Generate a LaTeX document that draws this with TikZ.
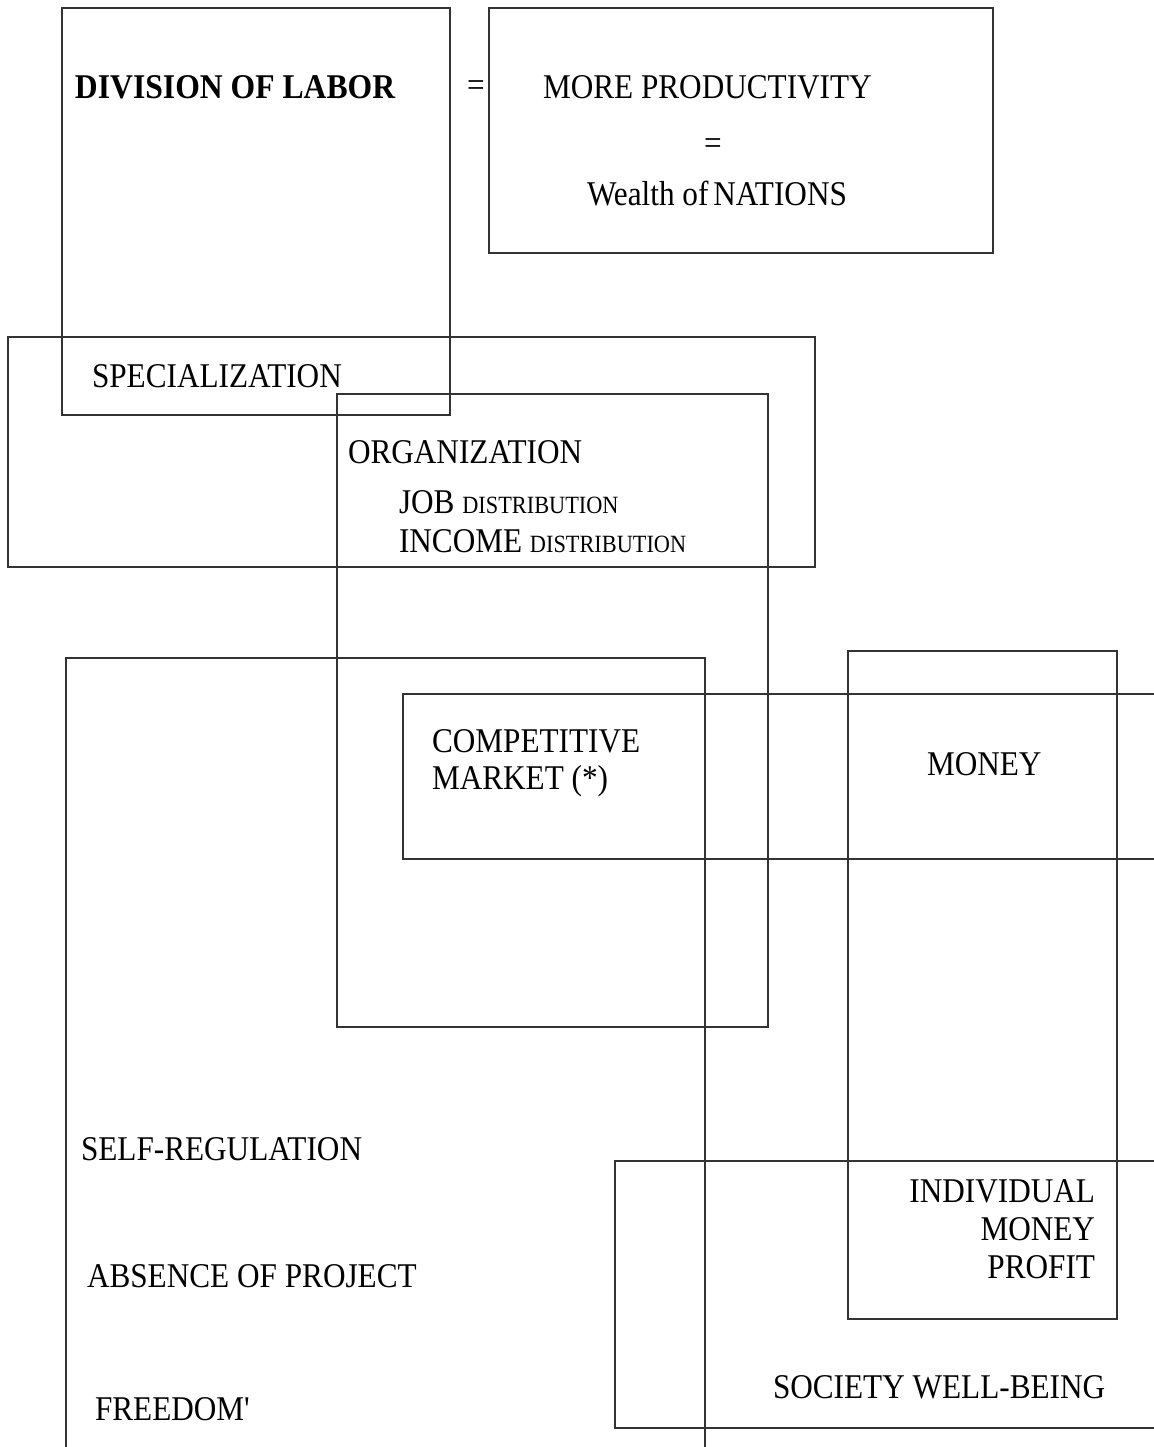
\documentclass[tikz,border=0pt]{standalone}
\usepackage{fontspec}
\setmainfont[FakeStretch=0.9]{Liberation Serif}
\newcommand{\dsc}[1]{{\fontsize{12.4}{14}\selectfont #1}}
\begin{document}
\begin{tikzpicture}[x=0.5pt,y=-0.5pt,
  box/.style={draw=black!80,line width=0.55pt},
  lbl/.style={inner sep=0pt,outer sep=0pt,anchor=base west,font=\fontsize{17.35}{21}\selectfont},
  rlbl/.style={lbl,anchor=base east}]
\useasboundingbox (0,0) rectangle (1154,1447);
% boxes
\draw[box] (62,8) rectangle (450,415);
\draw[box] (489,8) rectangle (993,253);
\draw[box] (8,337) rectangle (815,567);
\draw[box] (337,394) rectangle (768,1027);
\draw[box] (66,1447) -- (66,658) -- (705,658) -- (705,1447);
\draw[box] (1154,694) -- (403,694) -- (403,859) -- (1154,859);
\draw[box] (848,651) rectangle (1117,1319);
\draw[box] (1154,1161) -- (615,1161) -- (615,1428) -- (1154,1428);
% texts
\node[lbl,font=\fontsize{17.35}{21}\selectfont\bfseries,xscale=1.014] (dol) at (75,98) {DIVISION OF LABOR};
\node[lbl,anchor=center] (eq1) at (476,89) {=};
\node[lbl] (mp) at (543,98) {MORE PRODUCTIVITY};
\node[lbl,anchor=center] (eq2) at (713,147) {=};
\node[lbl] (won) at (587,205) {Wealth of\hspace{-1.5pt} NATIONS};
\node[lbl] (spec) at (92,387) {SPECIALIZATION};
\node[lbl] (org) at (348,463) {ORGANIZATION};
\node[lbl] (job) at (399,513) {JOB \dsc{DISTRIBUTION}};
\node[lbl] (inc) at (399,552) {INCOME \dsc{DISTRIBUTION}};
\node[lbl] (comp1) at (432,752) {COMPETITIVE};
\node[lbl] (comp2) at (432,789) {MARKET (*)};
\node[lbl] (money) at (927,775) {MONEY};
\node[lbl] (self) at (81,1160) {SELF-REGULATION};
\node[lbl] (abs) at (87,1287) {ABSENCE OF PROJECT};
\node[lbl] (free) at (95,1420) {FREEDOM\textquotesingle};
\node[rlbl] (ind1) at (1095,1202) {INDIVIDUAL};
\node[rlbl] (ind2) at (1095,1240) {MONEY};
\node[rlbl] (ind3) at (1095,1278) {PROFIT};
\node[lbl] (soc) at (773,1398) {SOCIETY WELL-BEING};
\end{tikzpicture}
\end{document}
